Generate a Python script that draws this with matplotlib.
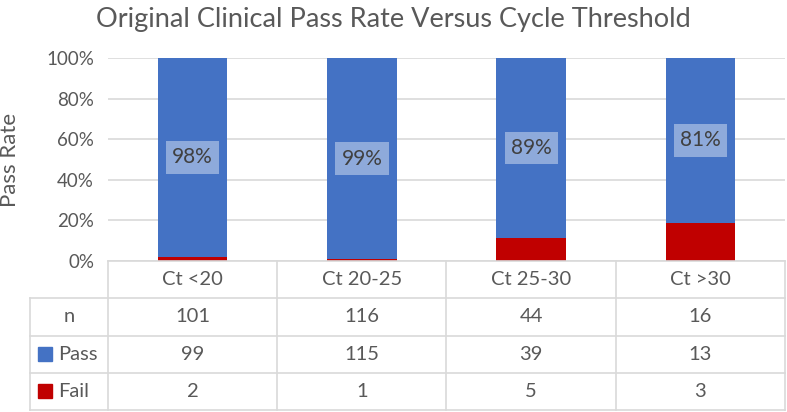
import numpy as np
import matplotlib.pyplot as plt
from matplotlib.patches import Rectangle

# Data
categories = ['Ct <20', 'Ct 20-25', 'Ct 25-30', 'Ct >30']
n_total = [101, 116, 44, 16]
n_pass = [99, 115, 39, 13]
n_fail = [2, 1, 5, 3]
pass_labels = ['98%', '99%', '89%', '81%']

blue = '#4472C4'
red = '#C00000'
grid_col = '#d9d9d9'
txt_col = '#595959'

plt.rcParams['font.family'] = ['Lato', 'DejaVu Sans']

W, H = 787, 412
fig = plt.figure(figsize=(W / 100, H / 100), dpi=100)

# pixel geometry
px_left, px_right = 108, 785
px_top, px_base = 58, 261
px_tab_left, px_tab_bot = 30, 410

ax = fig.add_axes([px_left / W, 1 - px_base / H,
                   (px_right - px_left) / W, (px_base - px_top) / H])

x = np.arange(len(categories))
fail_frac = np.array(n_fail) / np.array(n_total)
pass_frac = 1 - fail_frac
width = 0.41

ax.bar(x, fail_frac, width, color=red, zorder=3)
ax.bar(x, pass_frac, width, bottom=fail_frac, color=blue, zorder=3)

for xi, b, h, lab in zip(x, fail_frac, pass_frac, pass_labels):
    ax.text(xi, b + h / 2, lab, ha='center', va='center', fontsize=15,
            color='#404040', zorder=4,
            bbox=dict(boxstyle='square,pad=0.3', fc='white', alpha=0.4, ec='none'))

ax.set_xlim(-0.5, len(categories) - 0.5)
ax.set_ylim(0, 1)
ax.set_yticks(np.arange(0, 1.01, 0.2))
ax.set_yticklabels([f'{int(round(v * 100))}%' for v in np.arange(0, 1.01, 0.2)])
ax.tick_params(axis='y', length=0, labelsize=13.5, labelcolor=txt_col, pad=10)
ax.set_xticks([])
ax.grid(axis='y', color=grid_col, linewidth=1.2, zorder=0)
for s in ax.spines.values():
    s.set_visible(False)
ax.set_ylabel('Pass Rate', fontsize=16, color=txt_col)
ax.yaxis.set_label_coords(-(px_left - 20) / (px_right - px_left), 0.5)

fig.text(0.5, 1 - 19 / H, 'Original Clinical Pass Rate Versus Cycle Threshold',
         ha='center', va='center', fontsize=19.5, color=txt_col)

# Data table below the chart, sharing the category axis scale
unit = (px_right - px_left) / len(categories)
tab_xmin = -0.5 - (px_left - px_tab_left) / unit
tax = fig.add_axes([px_tab_left / W, 1 - px_tab_bot / H,
                    (px_right - px_tab_left) / W, (px_tab_bot - px_base) / H])
tax.set_xlim(tab_xmin, len(categories) - 0.5)
tax.set_ylim(4, 0)
tax.axis('off')

lw = 1.2
# horizontal lines
tax.plot([-0.5, len(categories) - 0.5], [0, 0], color=grid_col, lw=lw, clip_on=False)
for r in range(1, 5):
    tax.plot([tab_xmin, len(categories) - 0.5], [r, r], color=grid_col, lw=lw, clip_on=False)
# vertical lines
for c in range(len(categories) + 1):
    tax.plot([c - 0.5, c - 0.5], [0, 4], color=grid_col, lw=lw, clip_on=False)
tax.plot([tab_xmin, tab_xmin], [1, 4], color=grid_col, lw=lw, clip_on=False)

fs_tab = 14.5
rows = [categories, n_total, n_pass, n_fail]
for r, vals in enumerate(rows):
    for c, v in enumerate(vals):
        tax.text(c, r + 0.5, str(v), ha='center', va='center', fontsize=fs_tab, color=txt_col)

label_x = (tab_xmin + -0.5) / 2
tax.text(label_x, 1.5, 'n', ha='center', va='center', fontsize=fs_tab, color=txt_col)
sq = 14 / unit
sq_h = 14 / ((px_tab_bot - px_base) / 4)
for r, name, col in [(2, 'Pass', blue), (3, 'Fail', red)]:
    x0 = tab_xmin + 8 / unit
    tax.add_patch(Rectangle((x0, r + 0.5 - sq_h / 2), sq, sq_h, color=col, clip_on=False))
    tax.text(x0 + sq + 6 / unit, r + 0.5, name, ha='left', va='center',
             fontsize=fs_tab, color=txt_col)

fig.savefig('out.png', dpi=100)
